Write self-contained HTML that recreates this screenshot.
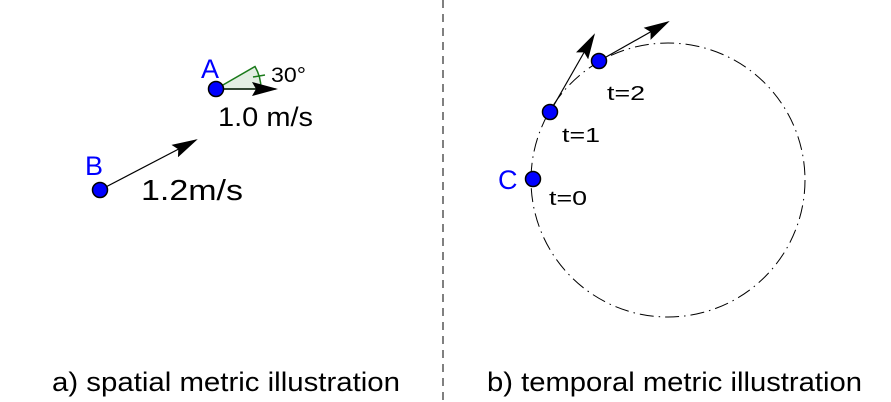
<!DOCTYPE html>
<html><head><style>html,body{margin:0;padding:0;background:#fff}svg{display:block}</style></head>
<body>
<svg width="891" height="402" viewBox="0 0 891 402" xmlns="http://www.w3.org/2000/svg" font-family="Liberation Sans, DejaVu Sans, sans-serif">
<defs>
<marker id="ah" markerWidth="26" markerHeight="14" refX="24" refY="7" orient="auto" markerUnits="userSpaceOnUse">
<path d="M0,0 L26,7 L0,14 L4,7 Z" fill="#000"/>
</marker>
</defs>
<line x1="443" y1="0" x2="443" y2="402" stroke="#000" stroke-width="1" stroke-dasharray="8,6"/>
<path d="M216,89 L261,89 A45,45 0 0 0 255,66.5 Z" fill="#e3eee3" stroke="#1a7a1a" stroke-width="1.5"/>
<line x1="253" y1="77" x2="265" y2="75" stroke="#1a7a1a" stroke-width="1.5"/>
<text x="271" y="82" font-size="21" textLength="35" lengthAdjust="spacingAndGlyphs">30°</text>
<line x1="216" y1="89" x2="276" y2="89" stroke="#000" stroke-width="1.2" marker-end="url(#ah)"/>
<line x1="100" y1="190" x2="196" y2="140" stroke="#000" stroke-width="1.2" marker-end="url(#ah)"/>
<circle cx="216" cy="89" r="7.5" fill="#0000ff" stroke="#000" stroke-width="1.5"/>
<circle cx="100" cy="190" r="7.5" fill="#0000ff" stroke="#000" stroke-width="1.5"/>
<text x="201" y="78" font-size="27" fill="#0000ff">A</text>
<text x="85" y="175" font-size="27" fill="#0000ff">B</text>
<text x="218" y="126" font-size="27" textLength="95" lengthAdjust="spacingAndGlyphs">1.0 m/s</text>
<text x="141" y="200" font-size="29" textLength="102" lengthAdjust="spacingAndGlyphs">1.2m/s</text>
<circle cx="668" cy="180" r="137" fill="none" stroke="#000" stroke-width="1" stroke-dasharray="14,5,1.5,5"/>
<line x1="550" y1="112" x2="594" y2="35" stroke="#000" stroke-width="1.2" marker-end="url(#ah)"/>
<line x1="599" y1="61" x2="668" y2="22" stroke="#000" stroke-width="1.2" marker-end="url(#ah)"/>
<circle cx="533" cy="179" r="7.5" fill="#0000ff" stroke="#000" stroke-width="1.5"/>
<circle cx="550" cy="112" r="7.5" fill="#0000ff" stroke="#000" stroke-width="1.5"/>
<circle cx="599" cy="61" r="7.5" fill="#0000ff" stroke="#000" stroke-width="1.5"/>
<text x="498" y="189" font-size="27" fill="#0000ff">C</text>
<text x="549" y="205" font-size="20" textLength="38" lengthAdjust="spacingAndGlyphs">t=0</text>
<text x="562" y="142" font-size="20" textLength="38" lengthAdjust="spacingAndGlyphs">t=1</text>
<text x="607" y="100" font-size="20" textLength="38" lengthAdjust="spacingAndGlyphs">t=2</text>
<text x="52" y="391" font-size="27" textLength="348" lengthAdjust="spacingAndGlyphs">a) spatial metric illustration</text>
<text x="487" y="391" font-size="27" textLength="375" lengthAdjust="spacingAndGlyphs">b) temporal metric illustration</text>
</svg>
</body></html>
